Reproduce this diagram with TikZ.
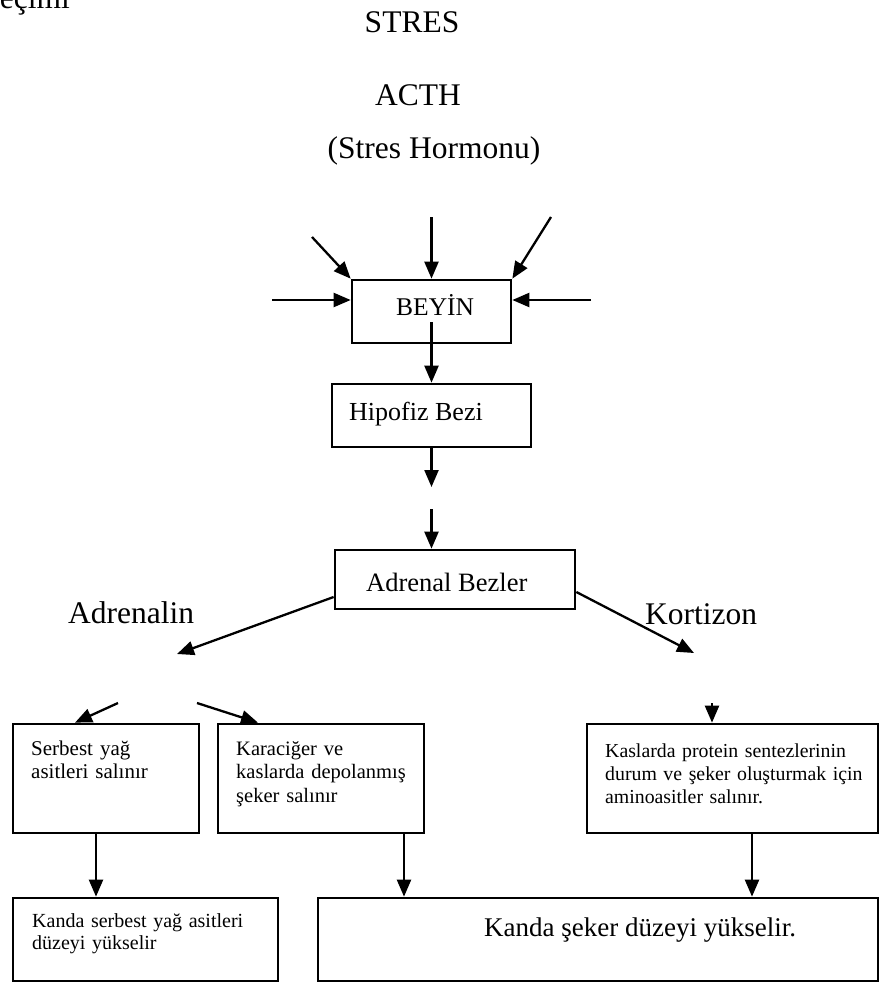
\documentclass[tikz,border=0pt]{standalone}
\usepackage{fontspec}
\setmainfont{Liberation Serif}
\usetikzlibrary{arrows.meta,calc}
\newcommand{\fsz}[2]{\fontsize{#1}{#2}\selectfont}
\begin{document}
\begin{tikzpicture}[x=1pt,y=-1pt,
  box/.style={draw=black,line width=2.7pt,inner sep=0pt,fill=none},
  arr/.style={line width=2.3pt,-{Triangle[length=17pt,width=14pt]}},
  big/.style={inner sep=0pt,font=\fsz{31.5}{36}},
  mid/.style={inner sep=0pt,anchor=base west,font=\fsz{26}{30}},
  small/.style={inner sep=0pt,anchor=base west,text width=290pt,align=left,font=\fsz{21}{23.8}},
  smaller/.style={inner sep=0pt,anchor=base west,text width=260pt,align=left,font=\fsz{20}{22}}]
\useasboundingbox (0,0) rectangle (889,985);

% header texts
\node[big,anchor=base east] (frag) at (70,9) {geçimi};
\node[big,anchor=base] (stres) at (412,32) {STRES};
\node[big,anchor=base] (acth) at (418,105) {ACTH};
\node[big,anchor=base] (hormon) at (434,158) {(Stres Hormonu)};

% boxes
\node[box,minimum width=159pt,minimum height=63pt] (beyin) at (431.5,311.5) {};
\node[box,minimum width=199pt,minimum height=63pt] (hipofiz) at (431.5,415.5) {};
\node[box,minimum width=240pt,minimum height=59pt] (adrenal) at (455,579.5) {};
\node[box,minimum width=186pt,minimum height=109pt] (serbest) at (106,778.5) {};
\node[box,minimum width=206pt,minimum height=109pt] (karaciger) at (321,778.5) {};
\node[box,minimum width=291pt,minimum height=109pt] (kaslar) at (732.5,778.5) {};
\node[box,minimum width=265pt,minimum height=83pt] (kanda1) at (145.5,939.5) {};
\node[box,minimum width=560pt,minimum height=83pt] (kanda2) at (598,939.5) {};

% box texts
\node[mid,font=\fsz{25.5}{30}] (tbeyin) at (396,315) {BEYİN};
\node[mid] (thipofiz) at (349,420) {Hipofiz Bezi};
\node[mid,font=\fsz{26.5}{30}] (tadrenal) at (366,591) {Adrenal Bezler};
\node[big,anchor=base west] (adrenalin) at (68,623) {Adrenalin};
\node[big,anchor=base west] (kortizon) at (645,624) {Kortizon};
\node[small] (tserbest) at (31,755) {Serbest yağ\\asitleri salınır};
\node[small,font=\fsz{20.5}{23.8}] (tkaraciger) at (236,755) {Karaciğer ve\\kaslarda depolanmış\\şeker salınır};
\node[small,font=\fsz{19.8}{23}] (tkaslar) at (605,757) {Kaslarda protein sentezlerinin\\durum ve şeker oluşturmak için\\aminoasitler salınır.};
\node[smaller] (tkanda1) at (32,927) {Kanda serbest yağ asitleri\\düzeyi yükselir};
\node[inner sep=0pt,anchor=base west,font=\fsz{27}{30}] (tkanda2) at (484,936) {Kanda şeker düzeyi yükselir.};

% coordinates for free ends
\coordinate (t1) at (312,237);
\coordinate (t2) at (431.5,217);
\coordinate (t3) at (551,217);
\coordinate (t4) at (272,300);
\coordinate (t5) at (591,300);
\coordinate (b1) at (431.5,322);
\coordinate (h1) at (431.5,487);
\coordinate (h2) at (431.5,509);
\coordinate (al) at (177,654);
\coordinate (kr) at (694,653);
\coordinate (s1) at (118,703);
\coordinate (s1e) at (75,724);
\coordinate (k1) at (197,703);
\coordinate (k1e) at (258,724);
\coordinate (m1) at (712,703);
\coordinate (d1) at (96,0);
\coordinate (d2) at (404,0);
\coordinate (d3) at (752,0);

% connectors
\draw[arr] (t1) -- (beyin.north west);
\draw[arr] (t2) -- (beyin.north);
\draw[arr] (t3) -- (beyin.north east);
\draw[arr] (t4) -- (t4 -| beyin.west);
\draw[arr] (t5) -- (t5 -| beyin.east);
\draw[arr] (b1) -- (b1 |- hipofiz.north);
\draw[arr] (hipofiz.south) -- (h1);
\draw[arr] (h2) -- (h2 |- adrenal.north);
\draw[arr] ([yshift=-17.5pt]adrenal.west) -- (al);
\draw[arr] ([yshift=-12.5pt]adrenal.east) -- (kr);
\draw[arr] (s1) -- (s1e |- serbest.north);
\draw[arr] (k1) -- (k1e |- karaciger.north);
\draw[arr] (m1) -- (m1 |- kaslar.north);
\draw[arr] (d1 |- serbest.south) -- (d1 |- kanda1.north);
\draw[arr] (d2 |- karaciger.south) -- (d2 |- kanda2.north);
\draw[arr] (d3 |- kaslar.south) -- (d3 |- kanda2.north);
\end{tikzpicture}
\end{document}
